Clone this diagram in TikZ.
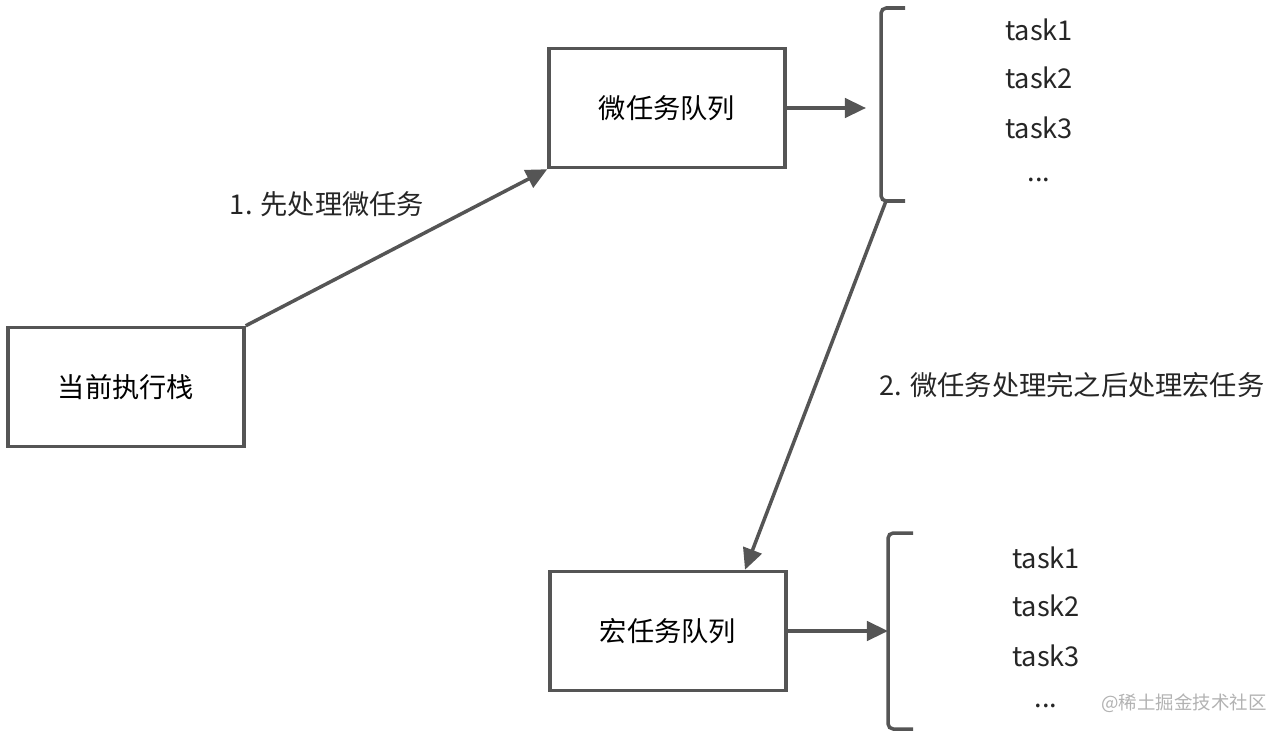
\documentclass[tikz,border=0pt]{standalone}
\usepackage{fontspec}
\setmainfont{Noto Sans CJK SC}
\usetikzlibrary{
  arrows.meta,
  positioning
}
\definecolor{linegrey}{HTML}{555555}
\tikzset{
  queuebox/.style={
    draw=linegrey,
    line width=2pt,
    minimum width=4.72cm,
    minimum height=2.38cm,
    font=\fontsize{15.5}{18}\selectfont
  },
  flow/.style={
    draw=linegrey,
    line width=2pt,
    -{Triangle[length=12pt,width=11pt]}
  },
  bracket/.style={
    draw=linegrey,
    line width=2pt,
    rounded corners=3pt
  },
  taskitem/.style={
    font=\fontsize{15.5}{18}\selectfont,
    text=black!85
  }
}

\begin{document}
\begin{tikzpicture}[x=0.02cm, y=-0.02cm]
  \useasboundingbox (0,0) rectangle (1284,734);
  \node[queuebox] (stack) at (126,387) {当前执行栈};
  \node[queuebox] (micro) at (667,108) {微任务队列};
  \node[queuebox] (macro) at (668,631) {宏任务队列};

  % micro task bracket
  \coordinate (mtop) at (905,8);
  \coordinate (mbot) at (905,201);
  \path[bracket] (mtop) -| (881,108) |- (mbot);
  \coordinate (min) at (866,108);
  \node[taskitem] (mt1) at (1039,30) {task1};
  \node[taskitem] (mt2) at (1039,78) {task2};
  \node[taskitem] (mt3) at (1039,128) {task3};
  \node[taskitem] (mt4) at (1039,180) {...};

  % macro task bracket
  \coordinate (ctop) at (913,533);
  \coordinate (cbot) at (913,729);
  \path[bracket] (ctop) -| (888,631) |- (cbot);
  \coordinate (cin) at (888,631);
  \node[taskitem] (ct1) at (1046,558) {task1};
  \node[taskitem] (ct2) at (1046,606) {task2};
  \node[taskitem] (ct3) at (1046,656) {task3};
  \node[taskitem] (ct4) at (1046,706) {...};

  % connectors
  \draw[flow] (stack.north east) -- (micro.south west);
  \draw[flow] (micro.east) -- (min);
  \draw[flow] (886,201) coordinate (mfoot) -- (macro.north -| 745,0);
  \draw[flow] (macro.east) -- (cin);

  \node[taskitem] (firstlbl) at (327,204) {1. 先处理微任务};
  \node[taskitem] (secondlbl) at (1072,385) {2. 微任务处理完之后处理宏任务};
  \node[font=\fontsize{10.5}{12}\selectfont, text=black!30] (mark) at (1184,703) {@稀土掘金技术社区};
\end{tikzpicture}
\end{document}
